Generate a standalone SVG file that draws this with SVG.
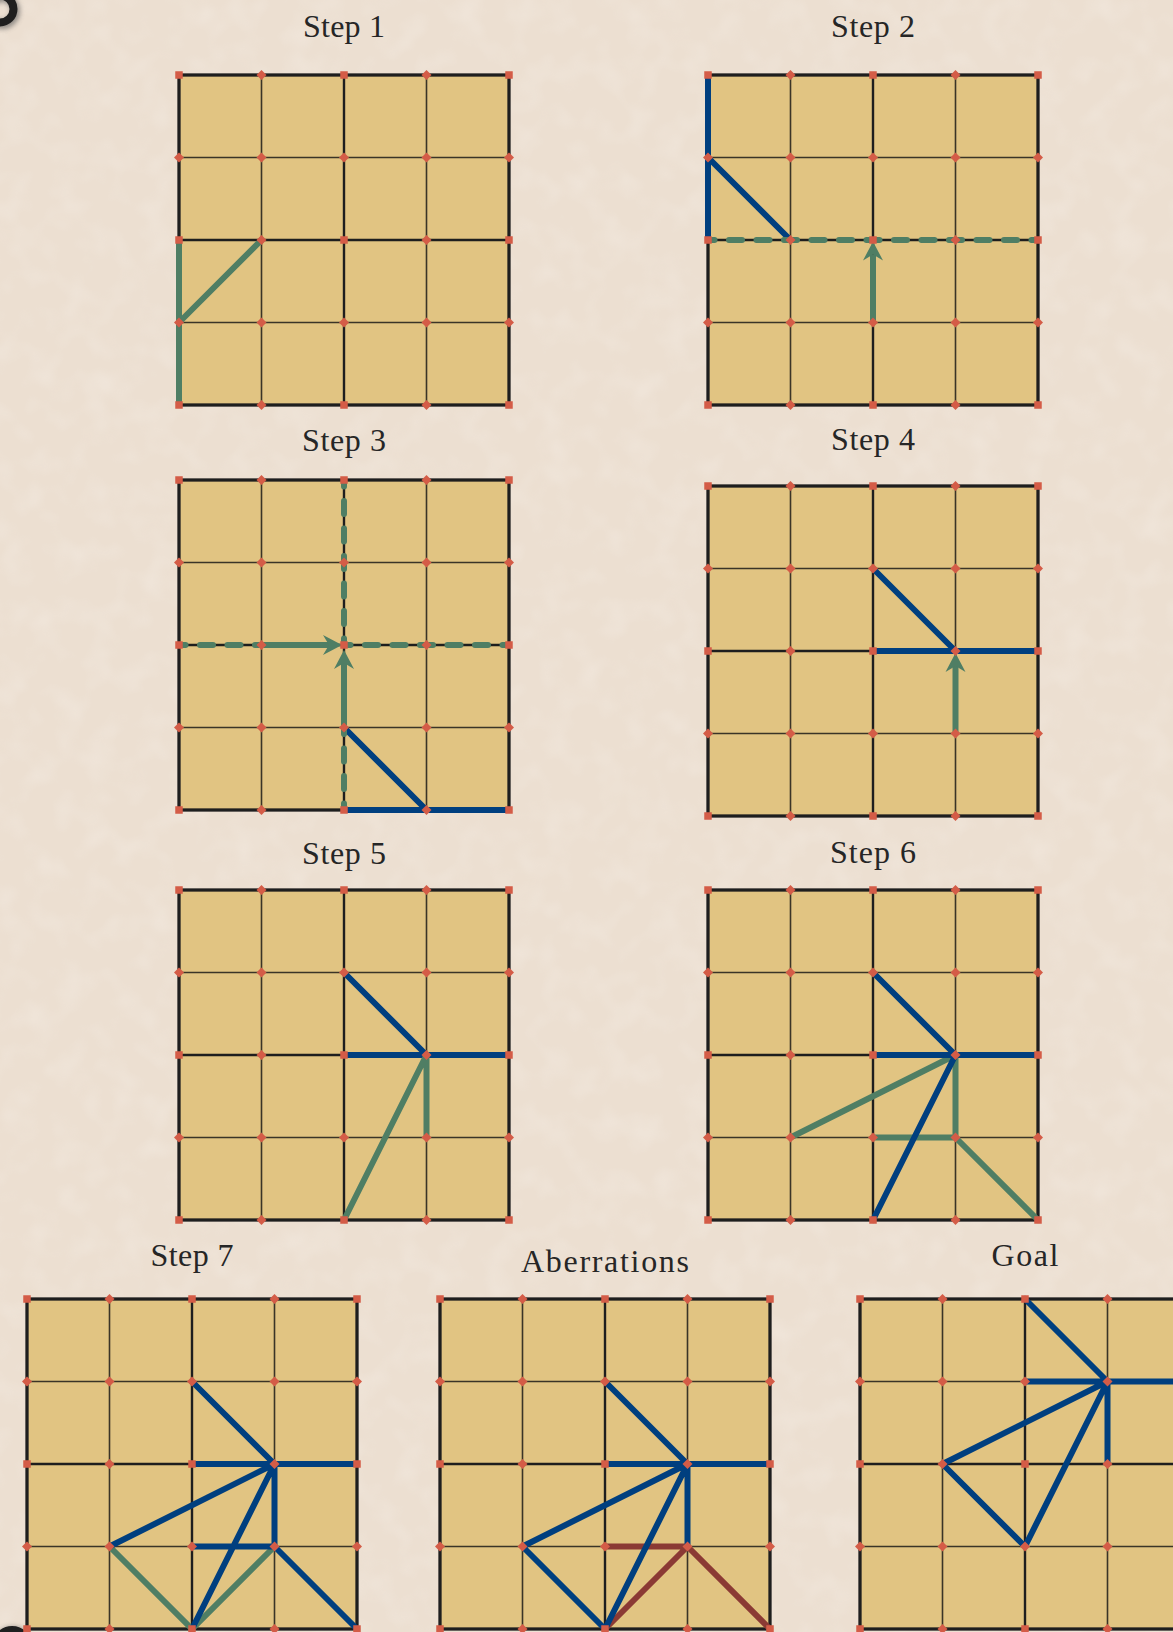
<svg xmlns="http://www.w3.org/2000/svg" xmlns:xlink="http://www.w3.org/1999/xlink" width="1173" height="1632" viewBox="0 0 1173 1632">
<style>
.title{font-family:"Liberation Serif","Times New Roman",serif;font-size:32px;fill:#262626;text-anchor:middle}
.thin{stroke:#3a3427;stroke-width:1.6;fill:none}
.thick{stroke:#1e1e1e;stroke-width:2.4;fill:none}
.outer{stroke:#1e1e1e;stroke-width:2.8;fill:#e1c482}
.pt{fill:#d45c47}
.ln{fill:none;stroke-width:6;stroke-linecap:round}
.b{stroke:#003f7f}
.g{stroke:#4f7e64}
.r{stroke:#8b3a34}
.dash{stroke-dasharray:13 14.5;stroke-dashoffset:6.5}
.arr{fill:none;stroke:#4f7e64;stroke-width:6;stroke-linecap:butt;marker-end:url(#ah)}
</style>
<defs>
<filter id="noise" x="0" y="0" width="100%" height="100%">
<feTurbulence type="fractalNoise" baseFrequency="0.035" numOctaves="2" seed="7"/>
<feColorMatrix type="matrix" values="0 0 0 0 1  0 0 0 0 1  0 0 0 0 1  0.7 0 0 0 -0.3"/>
</filter>
<filter id="soft" x="-50%" y="-50%" width="200%" height="200%">
<feGaussianBlur stdDeviation="2.5"/>
</filter>
<marker id="ah" markerUnits="userSpaceOnUse" viewBox="-7 -11 21 22" markerWidth="21" markerHeight="22" refX="0" refY="0" orient="auto">
<path d="M13,0 L-6,-10 L0,0 L-6,10 Z" fill="#4f7e64"/>
</marker>
<g id="board">
<rect class="outer" x="0" y="0" width="330" height="330"/>
<path class="thin" d="M82.5,0V330M247.5,0V330M0,82.5H330M0,247.5H330"/>
<path class="thick" d="M165,0V330M0,165H330"/>
<rect x="0" y="0" width="330" height="330" fill="none" stroke="#1e1e1e" stroke-width="2.8"/>
</g>
<rect id="sq" x="-3.75" y="-3.75" width="7.5" height="7.5"/>
<path id="dm" d="M0,-5L5,0L0,5L-5,0Z"/>
<g id="pts" class="pt">
<use href="#sq" x="0" y="0"/><use href="#dm" x="82.5" y="0"/><use href="#sq" x="165" y="0"/><use href="#dm" x="247.5" y="0"/><use href="#sq" x="330" y="0"/>
<use href="#dm" x="0" y="82.5"/><use href="#dm" x="82.5" y="82.5"/><use href="#dm" x="165" y="82.5"/><use href="#dm" x="247.5" y="82.5"/><use href="#dm" x="330" y="82.5"/>
<use href="#sq" x="0" y="165"/><use href="#dm" x="82.5" y="165"/><use href="#sq" x="165" y="165"/><use href="#dm" x="247.5" y="165"/><use href="#sq" x="330" y="165"/>
<use href="#dm" x="0" y="247.5"/><use href="#dm" x="82.5" y="247.5"/><use href="#dm" x="165" y="247.5"/><use href="#dm" x="247.5" y="247.5"/><use href="#dm" x="330" y="247.5"/>
<use href="#sq" x="0" y="330"/><use href="#dm" x="82.5" y="330"/><use href="#sq" x="165" y="330"/><use href="#dm" x="247.5" y="330"/><use href="#sq" x="330" y="330"/>
</g>
</defs>

<g id="background">
<rect x="0" y="0" width="1173" height="1632" fill="#ecdfd1"/>
<rect x="0" y="0" width="1173" height="1632" filter="url(#noise)" opacity="0.5"/>
<circle cx="2" cy="11" r="13.5" fill="none" stroke="#555" stroke-width="9" opacity="0.6" filter="url(#soft)"/>
<circle cx="0" cy="9" r="13.5" fill="none" stroke="#1f1f1f" stroke-width="8"/>
<circle cx="13" cy="1647" r="17" fill="none" stroke="#555" stroke-width="7" opacity="0.6" filter="url(#soft)"/>
<circle cx="12" cy="1646" r="17" fill="none" stroke="#1f1f1f" stroke-width="6"/>
</g>

<g id="panels">
<g id="step1" transform="translate(179,75)"><use href="#board"/><text class="title" x="165" y="-38" textLength="82">Step 1</text></g>
<g id="step2" transform="translate(708,75)"><use href="#board"/><text class="title" x="165" y="-38" textLength="84">Step 2</text></g>
<g id="step3" transform="translate(179,480)"><use href="#board"/><text class="title" x="165" y="-29.5" textLength="84">Step 3</text></g>
<g id="step4" transform="translate(708,486)"><use href="#board"/><text class="title" x="165" y="-36" textLength="84">Step 4</text></g>
<g id="step5" transform="translate(179,890)"><use href="#board"/><text class="title" x="165" y="-26" textLength="84">Step 5</text></g>
<g id="step6" transform="translate(708,890)"><use href="#board"/><text class="title" x="165" y="-27.5" textLength="86">Step 6</text></g>
<g id="step7" transform="translate(27,1299)"><use href="#board"/><text class="title" x="165" y="-33.5" textLength="83">Step 7</text></g>
<g id="aberrations" transform="translate(440,1299)"><use href="#board"/><text class="title" x="165" y="-27.5" textLength="168">Aberrations</text></g>
<g id="goal" transform="translate(860,1299)"><use href="#board"/><text class="title" x="165" y="-33.5" textLength="67">Goal</text></g>
</g>

<g id="connectors">
<g id="c-step1" transform="translate(179,75)">
<path class="ln g" d="M0,165V330M0,247.5L82.5,165"/>
</g>
<g id="c-step2" transform="translate(708,75)">
<path class="ln b" d="M0,0V165M0,82.5L82.5,165"/>
<path class="ln g dash" d="M0,165H330"/>
<path class="arr" d="M165,247.5V179.5"/>
</g>
<g id="c-step3" transform="translate(179,480)">
<path class="ln b" d="M165,247.5L247.5,330M165,330H330"/>
<path class="ln g dash" d="M165,0V165"/>
<path class="ln g dash" d="M165,247.5V330"/>
<path class="ln g dash" d="M0,165H82.5"/>
<path class="ln g dash" d="M165,165H330"/>
<path class="arr" d="M82.5,165H150"/>
<path class="arr" d="M165,247.5V183"/>
</g>
<g id="c-step4" transform="translate(708,486)">
<path class="ln b" d="M165,82.5L247.5,165M165,165H330"/>
<path class="arr" d="M247.5,247.5V180"/>
</g>
<g id="c-step5" transform="translate(179,890)">
<path class="ln b" d="M165,82.5L247.5,165M165,165H330"/>
<path class="ln g" d="M247.5,165V247.5M247.5,165L165,330"/>
</g>
<g id="c-step6" transform="translate(708,890)">
<path class="ln g" d="M82.5,247.5L247.5,165M247.5,165V247.5M165,247.5H247.5M247.5,247.5L330,330"/>
<path class="ln b" d="M165,82.5L247.5,165M165,165H330M247.5,165L165,330"/>
</g>
<g id="c-step7" transform="translate(27,1299)">
<path class="ln g" d="M82.5,247.5L165,330L247.5,247.5"/>
<path class="ln b" d="M165,82.5L247.5,165M165,165H330M82.5,247.5L247.5,165M247.5,165L165,330M247.5,165V247.5M165,247.5H247.5M247.5,247.5L330,330"/>
</g>
<g id="c-aberrations" transform="translate(440,1299)">
<path class="ln r" d="M165,247.5H247.5M165,330L247.5,247.5M247.5,247.5L330,330"/>
<path class="ln b" d="M165,82.5L247.5,165M165,165H330M82.5,247.5L247.5,165M247.5,165L165,330M247.5,165V247.5M82.5,247.5L165,330"/>
</g>
<g id="c-goal" transform="translate(860,1299)">
<path class="ln b" d="M165,0L247.5,82.5M165,82.5H330M82.5,165L247.5,82.5M247.5,82.5L165,247.5M247.5,82.5V165M82.5,165L165,247.5"/>
</g>
</g>

<g id="points">
<use href="#pts" transform="translate(179,75)"/>
<use href="#pts" transform="translate(708,75)"/>
<use href="#pts" transform="translate(179,480)"/>
<use href="#pts" transform="translate(708,486)"/>
<use href="#pts" transform="translate(179,890)"/>
<use href="#pts" transform="translate(708,890)"/>
<use href="#pts" transform="translate(27,1299)"/>
<use href="#pts" transform="translate(440,1299)"/>
<use href="#pts" transform="translate(860,1299)"/>
</g>
</svg>
